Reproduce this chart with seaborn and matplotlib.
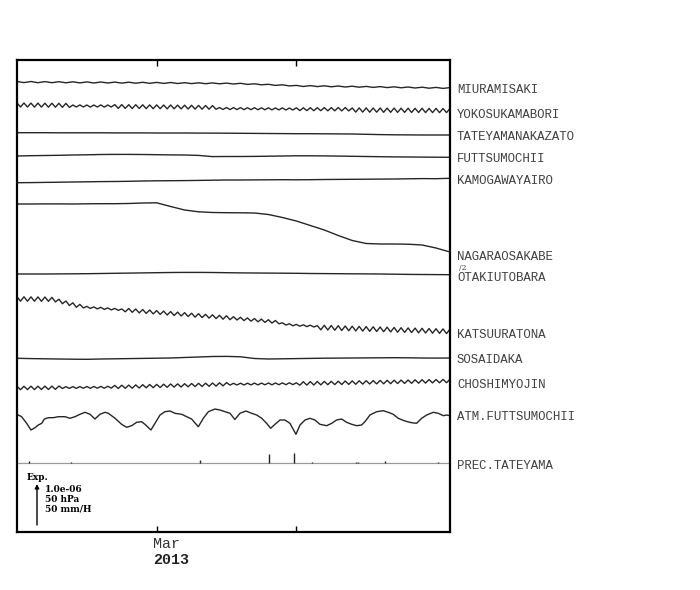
import numpy as np
import pandas as pd
import matplotlib
matplotlib.use("Agg")
import matplotlib.pyplot as plt
import seaborn as sns

# ---------------- data (relative units, up = positive) ----------------
stations = ["MIURAMISAKI", "YOKOSUKAMABORI", "TATEYAMANAKAZATO", "FUTTSUMOCHII",
            "KAMOGAWAYAIRO", "NAGARAOSAKABE", "OTAKIUTOBARA", "KATSUURATONA",
            "SOSAIDAKA", "CHOSHIMYOJIN", "ATM.FUTTSUMOCHII"]

# days since 2013-02-19
miura = [3.5, 2.4, 3.5, 2.3, 3.4, 2.3, 3.3, 2.2, 3.2, 2.1, 3.1, 2.0, 3.0, 2.0, 2.9, 1.9,
         2.8, 1.8, 2.7, 1.7, 2.6, 1.6, 2.5, 1.5, 2.3, 1.4, 2.2, 1.3, 2.1, 1.2, 1.9, 1.0,
         1.7, 0.6, 1.2, 0.2, 0.7, -0.4, 0.2, -0.9, -0.4, -1.5, -0.6, -1.6, -0.8, -1.8,
         -1.0, -2.0, -1.2, -2.2, -1.4, -2.4, -1.6, -2.6, -1.8, -2.8, -2.0, -3.0, -2.2,
         -3.2, -2.4, -3.4, -2.6]

yokosuka = [4.0, 0.0, 4.0, 0.0, 3.9, -0.1, 3.9, -0.1, 3.8, -0.2, 3.8, -0.2, 3.7, -0.3, 3.6, -0.4,
            2.0, 0.0, 2.1, 0.0, 2.0, -0.1, 2.0, 0.0, 2.1, -0.1, 2.0, 0.0,
            2.4, -1.4, 2.4, -1.4, 2.3, -1.5, 2.3, -1.5, 2.2, -1.6,
            2.1, -1.7, 2.1, -1.7, 2.0, -1.8, 2.0, -1.8, 1.9, -1.9,
            1.8, -2.0, 1.7, -2.1, 1.6, -2.2, 1.5, -2.2, 1.4, -2.3,
            -0.5, -2.5, -0.5, -2.6, -0.6, -2.6, -0.6, -2.7, -0.7, -2.7, -0.7,
            -2.8, -0.8, -2.8, -0.8, -2.9, -0.9, -2.9, -0.9, -3.0, -1.0, -3.0,
            -0.8, -3.6, -0.8, -3.6, -0.7, -3.7, -0.7, -3.7, -0.6, -3.8, -0.6, -3.8, -0.5, -3.9, -0.5, -3.9,
            -0.9, -5.1, -0.9, -5.1, -0.9, -5.2, -1.0, -5.2, -1.0, -5.3,
            -1.1, -5.3, -1.1, -5.4, -1.2, -5.4, -1.2, -5.5, -1.3, -5.5,
            -1.3, -5.6, -1.4, -5.6, -1.4, -5.6, -1.5, -5.6, -1.5]

tateyama = [1.3, 1.3, 1.3, 1.2, 1.2, 1.2, 1.2, 1.1, 1.1, 1.1, 1.0, 1.0, 1.0, 0.9, 0.9, 0.8,
            0.7, 0.6, 0.5, 0.4, 0.3, 0.3, 0.2, 0.1, 0.0, -0.3, -0.6, -0.8, -0.9, -1.0, -1.0, -1.0]

futtsu = [0.0, 0.3, 0.5, 0.7, 1.0, 1.2, 1.5, 1.6, 1.6, 1.5, 1.3, 1.1, 1.0, 0.6, -0.6, -0.5,
          -0.5, -0.4, -0.2, 0.0, 0.2, 0.2, 0.1, -0.1, -0.3, -0.5, -0.7, -0.9, -1.0, -1.1, -1.2, -1.3]

kamogawa = [-2.7, -2.6, -2.4, -2.2, -2.0, -1.8, -1.6, -1.5, -1.3, -1.0, -0.8, -0.7, -0.6, -0.4,
            -0.2, 0.0, 0.0, 0.1, 0.2, 0.3, 0.2, 0.3, 0.5, 0.6, 0.7, 0.8, 0.9, 1.0, 1.2, 1.4, 1.3, 1.7]

nagara = [0.0, 0.0, 0.1, 0.1, 0.0, 0.2, 0.3, 0.3, 0.5, 1.0, 1.2, -2.5, -6.0, -7.8, -8.5, -8.7,
          -8.8, -9.0, -10.5, -13.5, -17.0, -21.5, -26.0, -31.5, -36.5, -39.5, -40.0, -40.0,
          -40.2, -41.0, -44.0, -48.0]

otaki = [0.0, 0.0, 0.0, 0.1, 0.2, 0.3, 0.5, 0.7, 0.9, 1.1, 1.3, 1.5, 1.6, 1.6, 1.5, 1.3,
         1.1, 1.0, 0.9, 0.8, 0.7, 0.5, 0.4, 0.3, 0.2, 0.1, 0.0, -0.2, -0.4, -0.5, -0.6, -0.7]

katsuura = [18.2, 13.8, 18.2, 13.8, 18.1, 13.8, 18.1, 13.7, 18.0, 13.7,
            17.6, 13.1, 15.8, 11.3, 14.0, 9.5, 12.2, 7.7, 10.6,
            7.1, 8.6, 6.6, 8.1, 6.1, 7.7, 5.6, 7.1, 5.1, 6.6, 4.6, 6.1,
            3.2, 6.5, 2.7, 6.0, 2.1, 5.5, 1.6, 5.0, 1.1, 4.4, 0.6, 3.9, 0.0, 3.4, -0.5, 2.9,
            -1.0, 2.3, -1.5, 1.8, -2.1, 1.3, -2.6, 0.7, -3.1, 0.2, -3.6, -0.3, -4.2, -0.8, -4.7,
            -1.7, -5.0, -2.3, -5.6, -2.9, -6.2, -3.5, -6.8, -4.1, -7.4, -4.7, -8.1, -5.5,
            -8.8, -7.8, -10.0, -8.8, -10.8, -9.4, -11.2, -9.8, -11.6, -10.2, -12.0, -10.6,
            -14.8, -10.3, -15.0, -10.5, -15.2, -10.7, -15.5, -11.0, -15.7, -11.2, -15.9, -11.4,
            -16.1, -11.6, -16.3, -11.8, -16.5, -12.0, -16.7, -12.2, -16.9, -12.5, -17.2, -12.7,
            -17.4, -12.9, -17.6, -13.1, -17.8, -13.3, -18.0, -13.5, -18.2, -13.7, -18.4, -13.9,
            -18.6, -14.1]

sosaidaka = [-0.3, -0.6, -0.8, -1.0, -1.2, -1.3, -1.0, -0.8, -0.6, -0.4, -0.2, 0.0, 0.5, 1.0,
             1.5, 1.6, 1.2, -0.5, -1.0, -0.8, -0.6, -0.4, -0.2, -0.1, 0.0, 0.1, 0.2, 0.3, 0.2,
             0.0, -0.1, 0.0]

choshi = [-1.3, -4.7, -1.3, -4.6, -1.2, -4.6, -1.2, -4.5, -1.1, -4.5, -1.1, -4.4, -1.0,
          -3.5, -1.7, -3.4, -1.6, -3.4, -1.6, -3.3, -1.5, -3.3, -1.5, -3.2, -1.4, -3.2, -1.3, -3.1,
          -0.4, -3.5, -0.2, -3.3, -0.1, -3.2, 0.1, -3.0, 0.3, -2.8, 0.5, -2.7, 0.6, -2.5,
          0.8, -2.3, 1.0, -2.1, 1.1, -2.0, 1.3, -1.8, 1.5, -1.6, 1.7, -1.5, 1.8, -1.3, 2.0,
          -1.1, 2.2, -0.9, 2.4,
          -0.1, 1.7, 0.0, 1.8, 0.0, 1.8, 0.1, 1.9, 0.1, 1.9, 0.2, 2.0, 0.2, 2.0, 0.3, 2.1,
          0.3, 2.2, 0.4, 2.2,
          -0.2, 3.3, -0.1, 3.4, 0.0, 3.5, 0.1, 3.6, 0.3, 3.7, 0.4, 3.8, 0.5, 4.0, 0.6, 4.1,
          0.7, 4.2, 0.9, 4.3, 1.0, 4.4, 1.1, 4.6, 1.2, 4.7, 1.3, 4.8, 1.5, 4.9, 1.6, 5.0,
          1.7, 5.2, 1.8, 5.3, 1.9, 5.4, 2.1, 5.5, 2.2, 5.6, 2.3, 5.7]

atm_days = [0.0, 0.33, 0.69, 1.0, 1.29, 1.53, 1.77, 1.96, 2.24, 2.6, 2.96, 3.44, 3.79, 4.15,
            4.51, 4.87, 5.23, 5.58, 5.94, 6.3, 6.54, 7.02, 7.49, 7.85, 8.21, 8.57, 8.92, 9.16,
            9.59, 9.88, 10.24, 10.59, 10.95, 11.31, 11.79, 12.15, 12.5, 12.98, 13.34, 13.7,
            14.17, 14.53, 14.89, 15.25, 15.6, 15.96, 16.39, 16.8, 17.16, 17.52, 17.87, 18.16,
            18.47, 18.83, 19.18, 19.54, 19.97, 20.26, 20.62, 20.97, 21.33, 21.69, 22.17, 22.53,
            22.88, 23.24, 23.6, 23.96, 24.32, 24.67, 24.91, 25.27, 25.75, 26.22, 26.58, 26.94,
            27.29, 27.77, 28.25, 28.61, 28.97, 29.33, 29.8, 30.16, 30.52, 30.76, 31.0]
atm_vals = [5.7, 3.3, -3.3, -10, -7.7, -5, -3.3, 1, 2.3, 2.3, 3.3, 3.3, 1.7, 3.3, 5.7, 7.7,
            5.7, 1, 5.7, 7.7, 6.7, 1.7, -4.3, -7.3, -5.7, -2.3, -1.7, -4.3, -10, -3.3, 5, 8.3,
            9, 6.7, 5.7, 3.3, 1, -6.7, 1.7, 8.3, 11, 10, 8.3, 6.7, 0.5, 6.7, 9, 6.7, 5, 1.7,
            -3.3, -8.3, -4.3, 0, 0, -3.3, -14.3, -5, 0, 1.7, 0, -4.3, -5.7, -3.3, 0, 1, -2.3,
            -4.3, -5.7, -5, -1.7, 5, 8.3, 9.3, 7.7, 5.7, 1.7, -1, -2.7, -3.3, 1.7, 5, 7.7, 6.7,
            4.3, 5, 4.3]

prec_days = [0.86, 3.87, 13.1, 18.06, 19.83, 21.1, 24.3, 24.4, 26.34, 30.14]
prec_mm = [2.0, 1.0, 3.5, 9.0, 10.0, 1.0, 1.0, 1.0, 2.0, 1.0]

tick_days = [10, 20]
tick_labels = ["Mar", "2013"]
scale_texts = ["1.0e-06", "50 hPa", "50 mm/H"]

# ---------------- layout ----------------
series = [miura, yokosuka, tateyama, futtsu, kamogawa, nagara, otaki, katsuura,
          sosaidaka, choshi, atm_vals]
steps = [0.5, 0.25, 1, 1, 1, 1, 1, 0.25, 1, 0.25, None]
baselines = [85, 107, 134, 156, 180, 204, 274, 315, 358, 385, 420]   # stacking positions
prec_base = 463
label_y = [90, 115, 137, 159, 181, 257, 278, 335, 360, 385, 417]      # label rows (px)

frames = []
for name, vals, st, base in zip(stations, series, steps, baselines):
    t = atm_days if st is None else np.arange(len(vals)) * st
    frames.append(pd.DataFrame({"day": t, "y": -base + np.asarray(vals, float),
                                "station": name}))
df = pd.concat(frames, ignore_index=True)

sns.set_theme(style="white")
fig = plt.figure(figsize=(7, 5.9), dpi=100)
ax = fig.add_axes([17 / 700, 1 - 532 / 590, 433 / 700, 472 / 590])

sns.lineplot(data=df, x="day", y="y", units="station", estimator=None, sort=False,
             color="#262626", linewidth=1.0, legend=False, ax=ax,
             solid_joinstyle="round", solid_capstyle="round")

# precipitation
ax.axhline(-prec_base, color="#9a9a9a", lw=0.9)
ax.vlines(prec_days, -prec_base, -prec_base + np.asarray(prec_mm), color="#222222", lw=1.0)

ax.set_xlim(0, 31)
ax.set_ylim(-532, -60)
ax.set_xlabel("")
ax.set_ylabel("")
ax.set_yticks([])
ax.set_xticks(tick_days)
ax.tick_params(axis="x", direction="in", top=True, bottom=True, length=4, width=1,
               color="black", labelbottom=False)
for s in ax.spines.values():
    s.set_color("black")
    s.set_linewidth(1.6)

mono = "Liberation Mono"
tcol = "#404040"
for name, ly in zip(stations, label_y):
    ax.annotate(name, xy=(1, -ly), xycoords=("axes fraction", "data"), xytext=(7, 0),
                textcoords="offset pixels", ha="left", va="center",
                fontfamily=mono, fontsize=8.9, color=tcol, annotation_clip=False)
ax.annotate("PREC.TATEYAMA", xy=(1, -466), xycoords=("axes fraction", "data"),
            xytext=(7, 0), textcoords="offset pixels", ha="left", va="center",
            fontfamily=mono, fontsize=8.9, color=tcol, annotation_clip=False)
ax.annotate("/2", xy=(1, -268), xycoords=("axes fraction", "data"), xytext=(9, 0),
            textcoords="offset pixels", ha="left", va="center",
            fontfamily="DejaVu Serif", fontsize=5.5, color=tcol, annotation_clip=False)

# date labels
ax.annotate(tick_labels[0], xy=(tick_days[0], 0), xycoords=("data", "axes fraction"),
            xytext=(-4, -12), textcoords="offset pixels", ha="left", va="center",
            fontfamily=mono, fontsize=10.8, color="#333333", annotation_clip=False)
ax.annotate(tick_labels[1], xy=(tick_days[0], 0), xycoords=("data", "axes fraction"),
            xytext=(-4, -28), textcoords="offset pixels", ha="left", va="center",
            fontfamily=mono, fontsize=10.8, fontweight="bold", color="#222222",
            annotation_clip=False)

# scale legend
ax.annotate("", xy=(20 / 433, (532 - 484) / 472), xytext=(20 / 433, (532 - 525) / 472),
            xycoords="axes fraction",
            arrowprops=dict(arrowstyle="-|>", color="black", lw=1.0,
                            mutation_scale=6, shrinkA=0, shrinkB=0))
serif = "DejaVu Serif"
ax.text(10 / 433, (532 - 478) / 472, "Exp.", transform=ax.transAxes, fontfamily=serif,
        fontweight="bold", fontsize=6.5, va="center", ha="left", color="black")
for txt, yy in zip(scale_texts, [489.5, 499.5, 509.5]):
    ax.text(28 / 433, (532 - yy) / 472, txt, transform=ax.transAxes, fontfamily=serif,
            fontweight="bold", fontsize=6.5, va="center", ha="left", color="black")

fig.savefig("out.png", dpi=100)
